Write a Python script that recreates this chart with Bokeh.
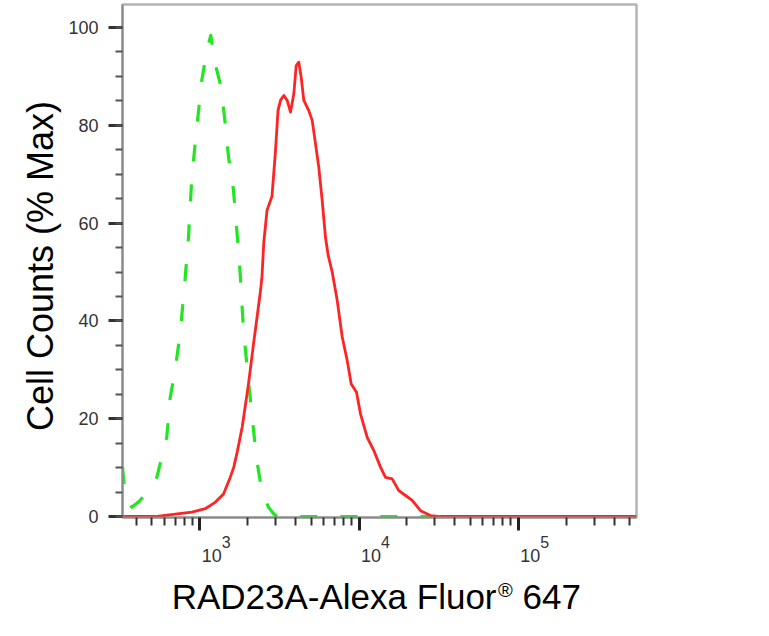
from bokeh.plotting import figure
from bokeh.layouts import column
from bokeh.models import (FixedTicker, SingleIntervalTicker, ColumnDataSource, LabelSet,
                          Label, CustomJSTickFormatter, Range1d)
from bokeh.core.properties import value
from bokeh.embed import file_html
from bokeh.resources import INLINE

# ---- data ----
red_x = [326.9, 524, 701, 891, 1081, 1249, 1409, 1552, 1635, 1708, 1846, 2022, 2175, 2294,
         2406, 2457, 2523, 2643, 2841, 2989, 3099, 3213, 3371, 3540, 3713, 3895, 4032, 4187,
         4335, 4501, 4838, 5082, 5332, 5592, 5872, 6159, 6405, 6786, 7118, 7295, 7845, 8432,
         8935, 9646, 10219, 11260, 12390, 13650, 14670, 16160, 17780, 19600, 21590, 24340,
         28120, 32510, 553500]
red_y = [0, 0, 0.5, 0.9, 1.6, 2.9, 4.6, 8.0, 10.1, 12.8, 18.3, 27.1, 35.3, 41.0,
         46.2, 49.0, 56.0, 62.6, 65.5, 74.8, 83.0, 85.1, 86.1, 85.1, 82.7, 86.4, 92.2, 92.9,
         89.8, 85.1, 83.0, 81.0, 76.2, 71.4, 64.6, 57.1, 53.4, 50.0, 46.2, 44.2, 36.7, 31.9,
         27.1, 25.4, 21.0, 16.2, 13.5, 10.1, 8.0, 7.7, 5.3, 4.3, 3.3, 1.2,
         0.2, 0, 0]

green_x = [327, 340, 374, 420, 465, 537, 620, 652, 694, 753, 810, 849, 891, 958, 1029, 1107,
           1172, 1249, 1343, 1430, 1515, 1628, 1708, 1794, 1882, 1974, 2121, 2280, 2451, 2701,
           2900, 3050, 553500]
green_y = [10.1, 4.0, 1.9, 3.2, 5.0, 8.0, 16.2, 24.4, 29.2, 37.4, 48.9, 57.1, 69.4, 79.6, 89.2, 95.3,
           98.4, 92.6, 88.5, 81.7, 73.5, 66.7, 58.5, 49.6, 38.0, 31.2, 21.0, 11.5, 5.3, 1.9,
           0.6, 0, 0]

x_major = [1e3, 1e4, 1e5]
x_minor = [400, 500, 600, 700, 800, 900,
           2000, 3000, 4000, 5000, 6000, 7000, 8000, 9000,
           20000, 30000, 40000, 50000, 60000, 70000, 80000, 90000,
           200000, 300000, 400000, 500000]
x_tick_base = ["10", "10", "10"]
x_tick_exp = ["3", "4", "5"]
y_title = "Cell Counts (% Max)\u00a0"
x_title_parts = ["RAD23A-Alexa Fluor", "\u00ae", "647"]

FONT = "Liberation Sans"
RED = "#ff2424"
GREEN = "#22e622"
W = 750

# ---------------- main plot ----------------
p = figure(width=W, height=531, x_axis_type="log",
           x_range=Range1d(326.9, 553500), y_range=Range1d(-0.2, 104.7),
           output_backend="svg", toolbar_location=None,
           min_border_left=122, min_border_right=114, min_border_top=4, min_border_bottom=14)

p.background_fill_color = "white"
p.border_fill_color = "white"
p.xgrid.visible = False
p.ygrid.visible = False
p.outline_line_color = "#b4b4b4"
p.outline_line_width = 2.5

src_g = ColumnDataSource(dict(x=green_x, y=green_y))
src_r = ColumnDataSource(dict(x=red_x, y=red_y))
p.line("x", "y", source=src_g, line_color=GREEN, line_width=3.2, line_dash="17 23",
       line_join="round")
p.line("x", "y", source=src_r, line_color=RED, line_width=2.8, line_join="round")

# x axis (labels are drawn in the strip below)
xa = p.xaxis[0]
xa.ticker = FixedTicker(ticks=x_major, minor_ticks=x_minor)
xa.formatter = CustomJSTickFormatter(code="return ''")
xa.major_label_text_font_size = "0px"
xa.major_label_standoff = 0
xa.axis_line_color = "#8a8a8a"
xa.axis_line_width = 2
xa.major_tick_line_color = "#222222"
xa.major_tick_line_width = 3
xa.major_tick_out = 13
xa.major_tick_in = 0
xa.minor_tick_line_color = "#333333"
xa.minor_tick_line_width = 2
xa.minor_tick_out = 8
xa.minor_tick_in = 0

# y axis
ya = p.yaxis[0]
ya.ticker = SingleIntervalTicker(interval=20, num_minor_ticks=4)
ya.axis_line_color = "#8a8a8a"
ya.axis_line_width = 2
ya.major_tick_line_color = "#333333"
ya.major_tick_line_width = 3
ya.major_tick_out = 14
ya.major_tick_in = 0
ya.minor_tick_line_color = "#555555"
ya.minor_tick_line_width = 2
ya.minor_tick_out = 7
ya.minor_tick_in = 0
ya.major_label_text_font = FONT
ya.major_label_text_font_size = "18px"
ya.major_label_text_color = "#333333"
ya.major_label_standoff = 10
ya.axis_label = y_title
ya.axis_label_text_font = FONT
ya.axis_label_text_font_size = "36px"
ya.axis_label_text_font_style = "normal"
ya.axis_label_text_color = "black"
ya.axis_label_standoff = 4

# ---------------- strip below: tick labels and x title ----------------
p2 = figure(width=W, height=89, x_axis_type="log", x_range=p.x_range, y_range=Range1d(0, 1),
            output_backend="svg", toolbar_location=None,
            min_border_left=122, min_border_right=114, min_border_top=0, min_border_bottom=0)
p2.axis.visible = False
p2.xgrid.visible = False
p2.ygrid.visible = False
p2.outline_line_color = None
p2.background_fill_color = "white"
p2.border_fill_color = "white"

tick_src = ColumnDataSource(dict(x=x_major, base=x_tick_base, exp=x_tick_exp))
p2.add_layout(LabelSet(x="x", y=59, y_units="screen", text="base", source=tick_src, x_offset=2,
                       text_font=value(FONT), text_font_size=value("18px"),
                       text_color="#333333", text_align="left", text_baseline="alphabetic"))
p2.add_layout(LabelSet(x="x", y=73, y_units="screen", text="exp", source=tick_src, x_offset=22,
                       text_font=value(FONT), text_font_size=value("16px"),
                       text_color="#333333", text_align="left", text_baseline="alphabetic"))

p2.add_layout(Label(x=374, y=24, x_units="screen", y_units="screen", text=x_title_parts[0],
                    text_font=FONT, text_font_size="35px", text_color="black",
                    text_align="right", text_baseline="alphabetic"))
p2.add_layout(Label(x=375.5, y=30.5, x_units="screen", y_units="screen", text=x_title_parts[1],
                    text_font=FONT, text_font_size="20px", text_color="black",
                    text_align="left", text_baseline="alphabetic"))
p2.add_layout(Label(x=400, y=24, x_units="screen", y_units="screen", text=x_title_parts[2],
                    text_font=FONT, text_font_size="35px", text_color="black",
                    text_align="left", text_baseline="alphabetic"))

layout = column(p, p2, spacing=0)
open("out.html", "w").write(file_html(layout, INLINE))
